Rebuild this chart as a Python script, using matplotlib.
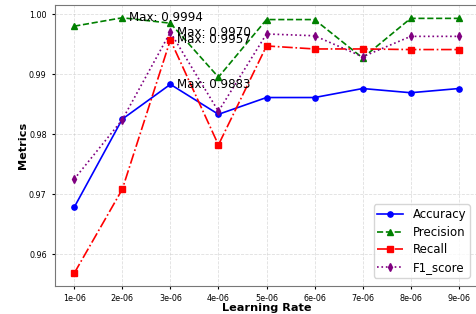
import matplotlib.pyplot as plt

learning_rates = [1e-06, 2e-06, 3e-06, 4e-06, 5e-06, 6e-06, 7e-06, 8e-06, 9e-06]
accuracy = [0.9678, 0.9825, 0.9883, 0.9833, 0.9861, 0.9861, 0.9876, 0.9869, 0.9876]
precision = [0.9980, 0.9994, 0.9985, 0.9895, 0.9991, 0.9991, 0.9927, 0.9993, 0.9993]
recall = [0.9568, 0.9708, 0.9957, 0.9782, 0.9947, 0.9942, 0.9942, 0.9941, 0.9941]
f1_score = [0.9725, 0.9824, 0.9970, 0.9838, 0.9967, 0.9964, 0.9929, 0.9963, 0.9963]

series = [
    ('Accuracy', accuracy, 'blue', '-', 'o'),
    ('Precision', precision, 'green', '--', '^'),
    ('Recall', recall, 'red', '-.', 's'),
    ('F1_score', f1_score, 'purple', ':', 'd'),
]

fig = plt.figure(figsize=(4.76, 3.14), dpi=100)
ax = fig.add_axes([55 / 476, 28 / 314, 423 / 476, 281 / 314])

for name, vals, color, ls, mk in series:
    ax.plot(learning_rates, vals, color=color, linestyle=ls, marker=mk,
            markersize=3.8, linewidth=1.2, label=name)

# mark the best value of each metric
for name, vals, color, ls, mk in series:
    i = vals.index(max(vals))
    ax.annotate(f'Max: {vals[i]:.4f}', (learning_rates[i], vals[i]),
                xytext=(5, 0), textcoords='offset points',
                va='center', ha='left', fontsize=8.6)

ax.set_xticks(learning_rates)
ax.set_xticklabels([str(lr) for lr in learning_rates])
ax.set_yticks([0.96, 0.97, 0.98, 0.99, 1.00])
ax.tick_params(labelsize=5.8, length=2.5)
ax.set_xlabel('Learning Rate', fontsize=8.1, fontweight='bold', labelpad=0)
ax.set_ylabel('Metrics', fontsize=8.1, fontweight='bold', labelpad=1)
ax.grid(True, linestyle='--', alpha=0.4, linewidth=0.6)
for s in ax.spines.values():
    s.set_color('#777777')
ax.legend(loc='lower right', fontsize=8.5, handlelength=2.2,
          borderpad=0.3, labelspacing=0.4, borderaxespad=0.7)

plt.savefig('out.png', dpi=100)
